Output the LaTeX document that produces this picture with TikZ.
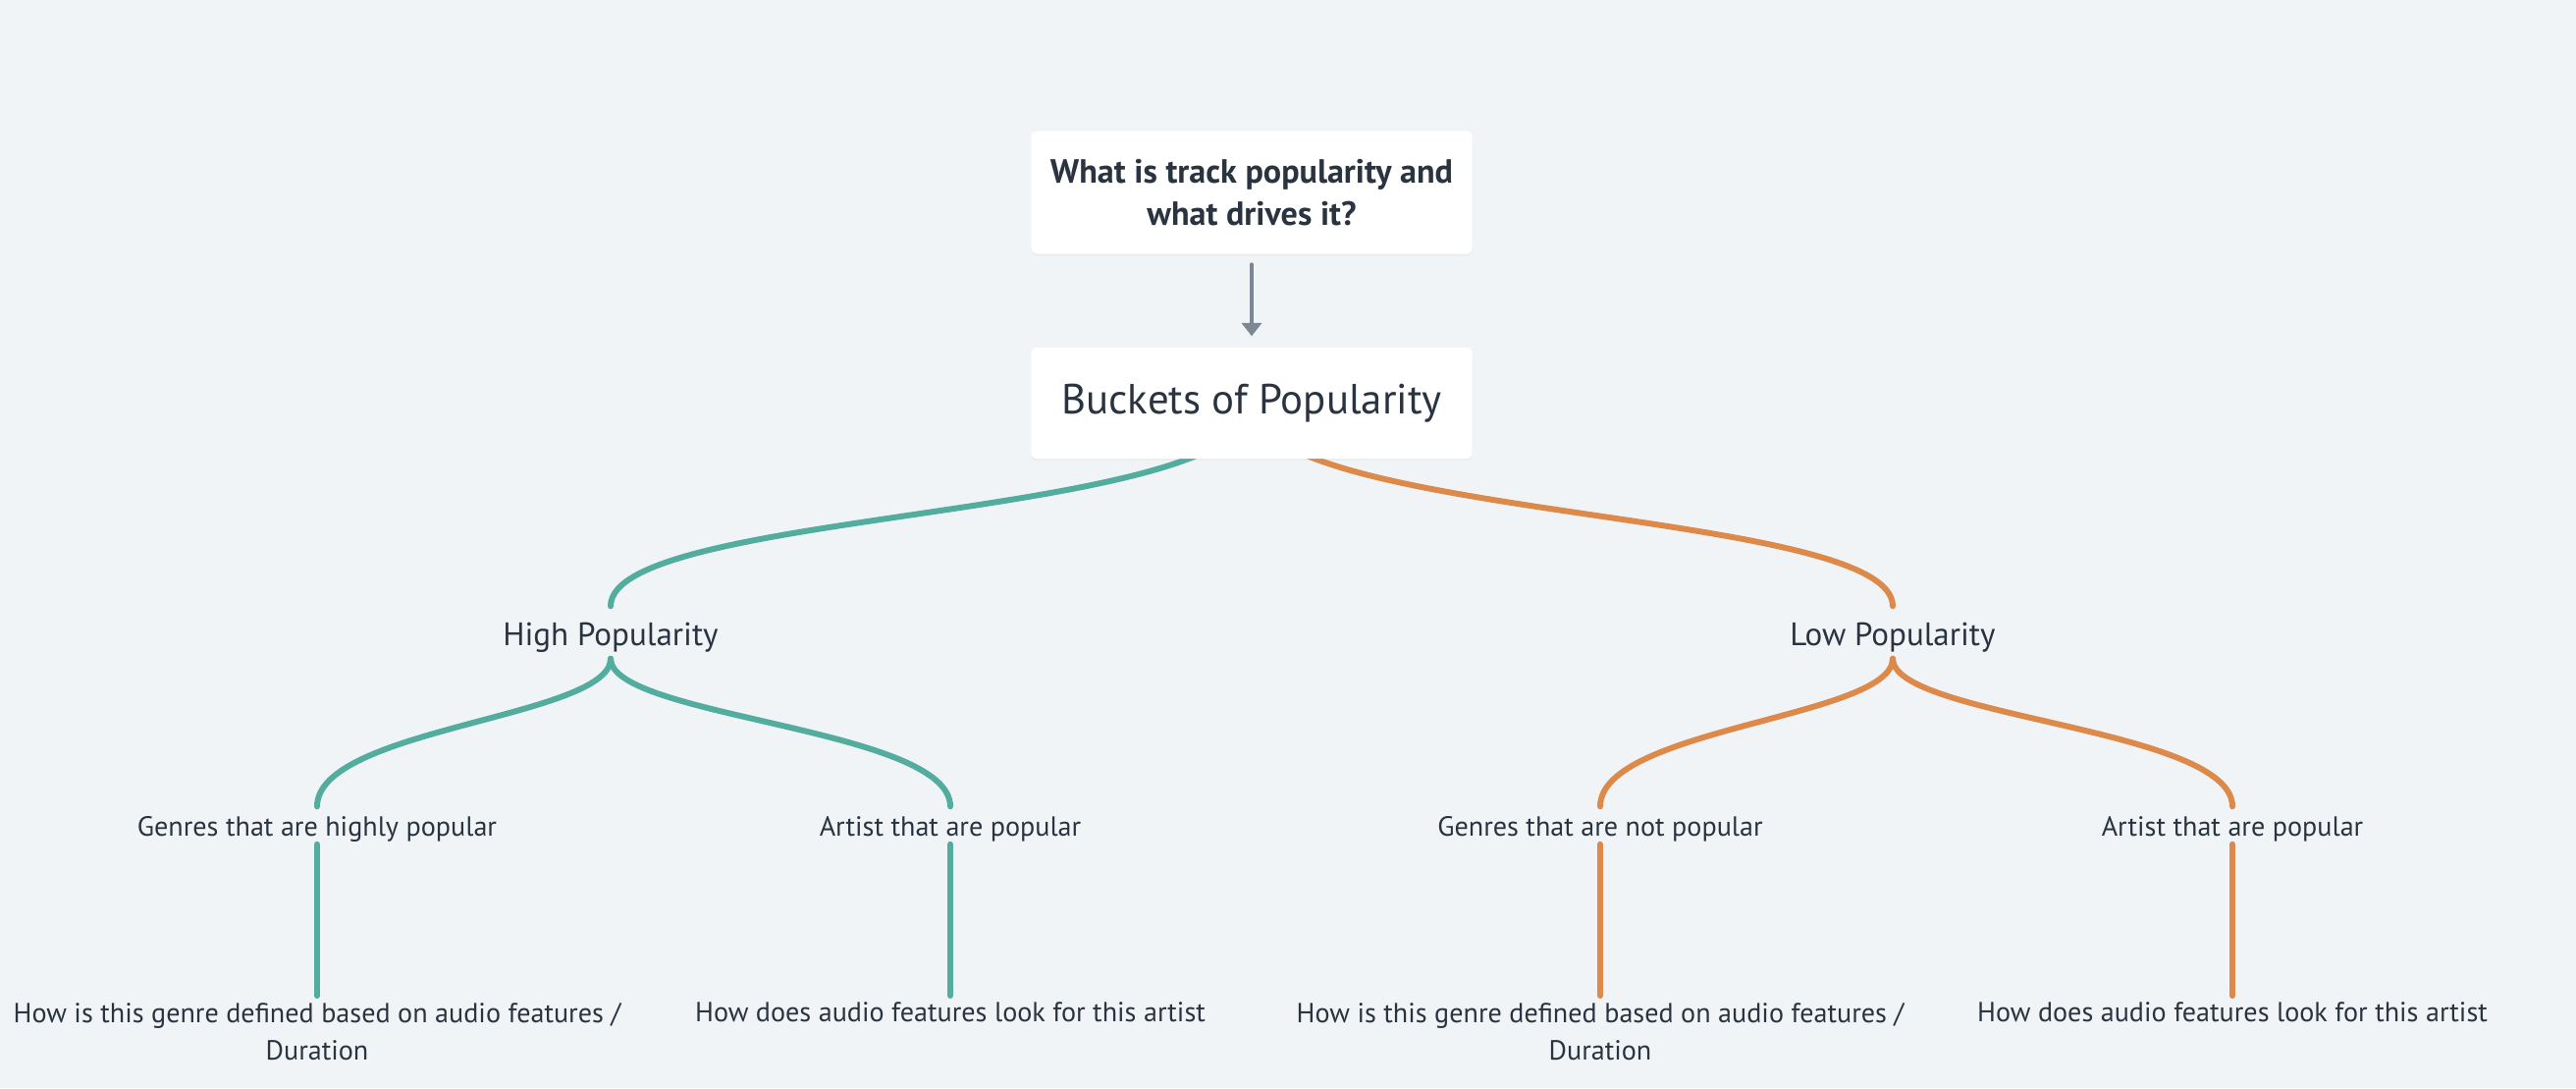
\documentclass[tikz,border=0pt]{standalone}
\usepackage{fontspec}
\setmainfont{PT Sans}
\usetikzlibrary{arrows.meta,shadows,backgrounds}
\definecolor{bgcol}{HTML}{F0F4F7}
\definecolor{ink}{HTML}{2A3441}
\definecolor{grncol}{HTML}{52AD9E}
\definecolor{orgcol}{HTML}{DD894A}
\definecolor{arrcol}{HTML}{7B8794}

\begin{document}
\begin{tikzpicture}[x=0.01cm, y=-0.01cm,
    every node/.style={text=ink, inner sep=0pt},
    card/.style={fill=white, rounded corners=1.7pt, minimum width=4.49cm,
      drop shadow={shadow xshift=0pt, shadow yshift=-0.6pt, opacity=0.06}},
    lvlone/.style={font=\fontsize{9.4}{10}\selectfont, minimum height=0.52cm, text height=0.26cm, text depth=0cm},
    lvltwo/.style={font=\fontsize{8}{9}\selectfont, minimum height=0.37cm, text height=0.21cm, text depth=0cm},
    leaf/.style={font=\fontsize{8}{10.8}\selectfont, align=center, anchor=north, inner ysep=1.8pt},
    grn/.style={draw=grncol, line width=1.7pt, line cap=round},
    org/.style={draw=orgcol, line width=1.7pt, line cap=round},
    arr/.style={draw=arrcol, line width=1.1pt, line cap=round, -{Triangle[width=5.7pt, length=3.8pt]},
      shorten <=0.1cm, shorten >=0.11cm}]
  \useasboundingbox (0,0) rectangle (2624,1108);
  % question and buckets
  \node (q) at (1275,196) [card, minimum height=1.25cm, align=center,
    font=\bfseries\fontsize{9.7}{12.2}\selectfont] {What is track popularity and\\what drives it?};
  \node (bk) at (1275,410.5) [card, minimum height=1.13cm, font=\fontsize{12.2}{13}\selectfont] {Buckets of Popularity};
  \draw[arr] (q) -- (bk);
  % buckets
  \node (hp) at (622,644) [lvlone] {High Popularity};
  \node (lp) at (1928,644) [lvlone] {Low Popularity};
  \node (hg) at (323,840.5) [lvltwo] {Genres that are highly popular};
  \node (ha) at (968,840.5) [lvltwo] {Artist that are popular};
  \node (lg) at (1630,840.5) [lvltwo] {Genres that are not popular};
  \node (la) at (2274,840.5) [lvltwo] {Artist that are popular};
  \node (hgq) at (323,1014) [leaf] {How is this genre defined based on audio features /\\Duration};
  \node (haq) at (968,1014) [leaf] {How does audio features look for this artist};
  \node (lgq) at (1630,1014) [leaf] {How is this genre defined based on audio features /\\Duration};
  \node (laq) at (2274,1014) [leaf] {How does audio features look for this artist};
  \begin{pgfonlayer}{background}
    \fill[bgcol] (0,0) rectangle (2624,1108);
    \draw[grn] (bk.center) .. controls +(0,120) and +(0,-100) .. (hp.north);
    \draw[org] (bk.center) .. controls +(0,120) and +(0,-100) .. (lp.north);
  \end{pgfonlayer}
  \foreach \source/\dest/\col in {hp/hg/grn, hp/ha/grn, lp/lg/org, lp/la/org}
    \draw[\col] (\source.south) .. controls +(0,60) and +(0,-80) .. (\dest.north);
  \foreach \source/\dest/\col in {hg/hgq/grn, ha/haq/grn, lg/lgq/org, la/laq/org}
    \path (\source.south) edge[\col] (\dest.north);
\end{tikzpicture}
\end{document}
